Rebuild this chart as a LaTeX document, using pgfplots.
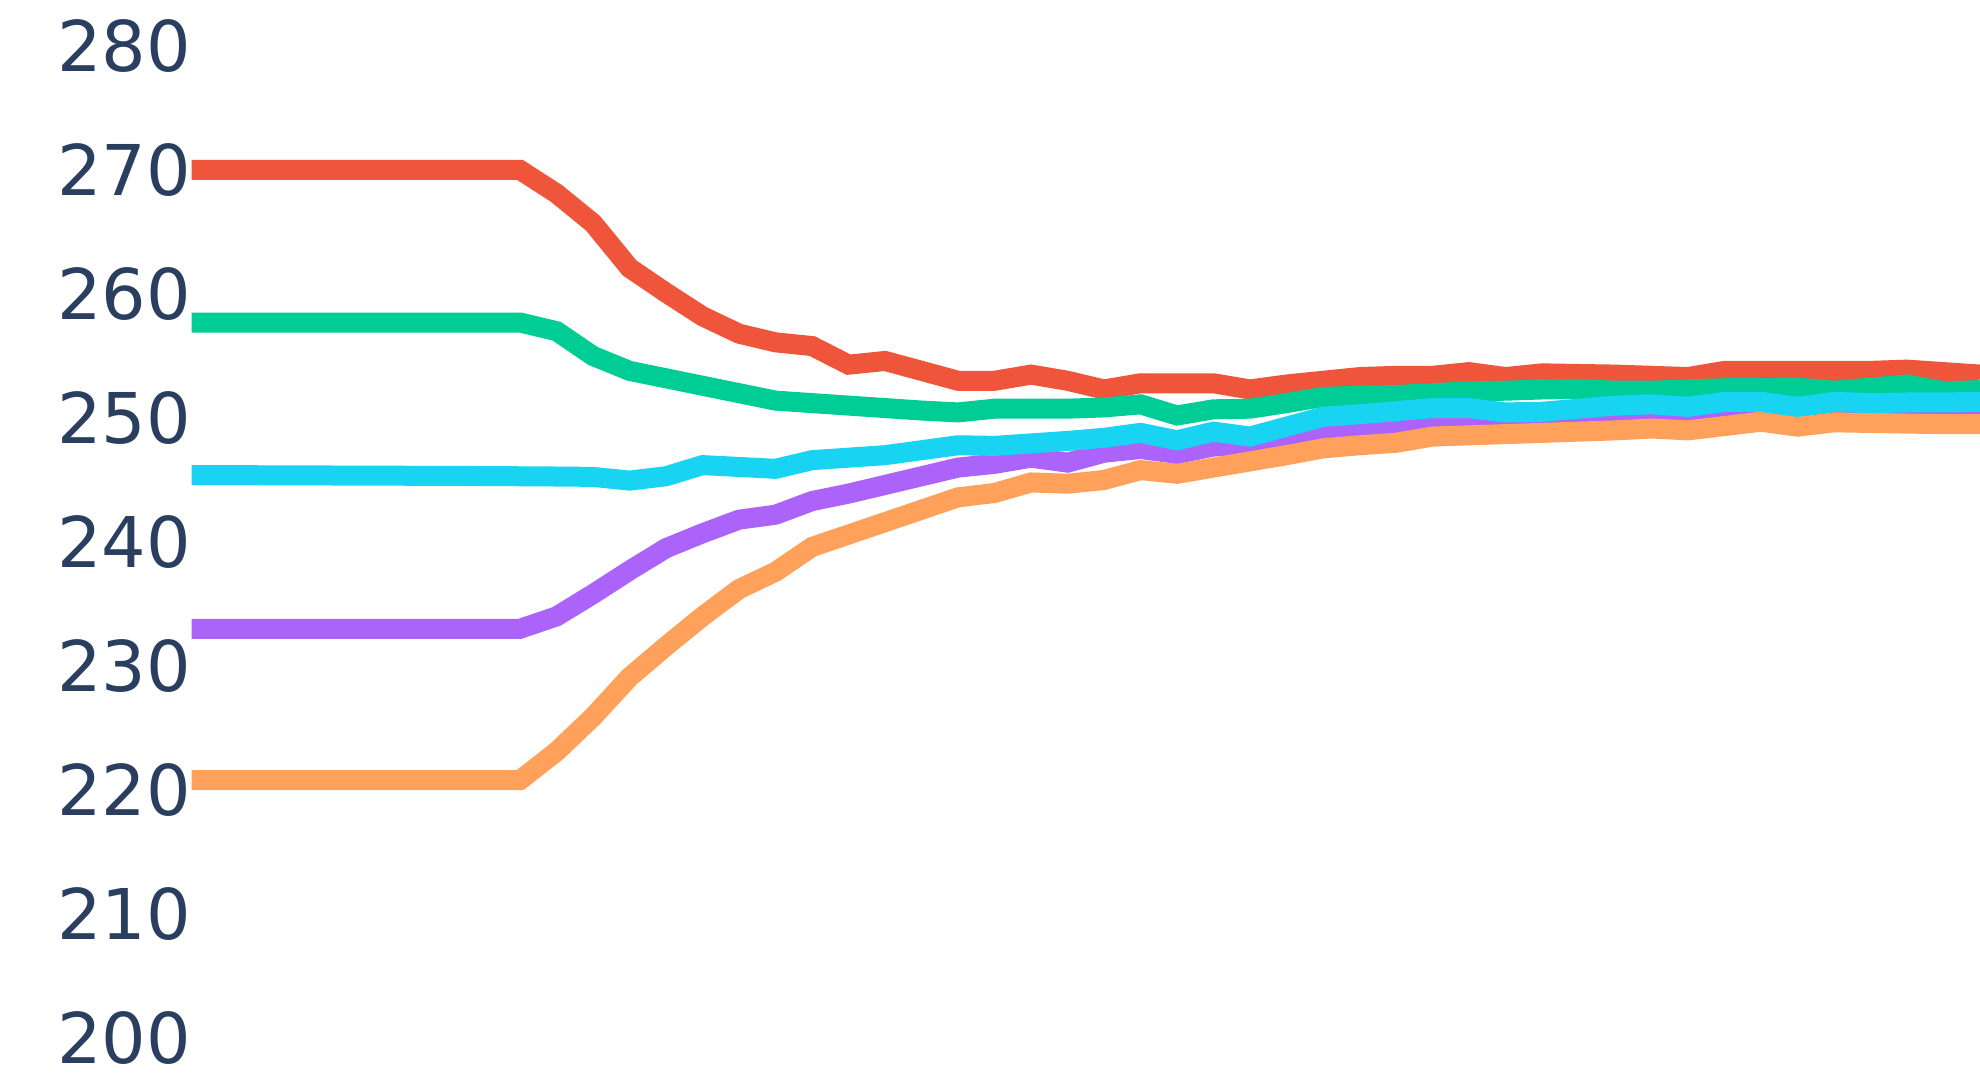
\documentclass[border=0pt]{standalone}
\usepackage{pgfplots}
\pgfplotsset{compat=1.18}
\usepackage{pgfplotstable}
\usepackage{fontspec}
\setmainfont{DejaVu Sans}

\definecolor{tickc}{HTML}{2A3F5F}
\definecolor{pred}{HTML}{EF553B}
\definecolor{pgreen}{HTML}{00CC96}
\definecolor{ppurple}{HTML}{AB63FA}
\definecolor{porange}{HTML}{FFA15A}
\definecolor{pcyan}{HTML}{19D3F3}

% x = step, one column per line
\pgfplotstableread{
x  R      G      P      O      C
0  270.0  257.7  233.0  220.8  245.40
1  270.0  257.7  233.0  220.8  245.39
2  270.0  257.7  233.0  220.8  245.38
3  270.0  257.7  233.0  220.8  245.37
4  270.0  257.7  233.0  220.8  245.36
5  270.0  257.7  233.0  220.8  245.35
6  270.0  257.7  233.0  220.8  245.34
7  270.0  257.7  233.0  220.8  245.33
8  270.0  257.7  233.0  220.8  245.32
9  270.0  257.7  233.0  220.8  245.30
10 268.1  257.0  234.0  223.1  245.28
11 265.7  255.0  235.8  225.9  245.25
12 262.1  253.8  237.7  229.1  244.95
13 260.1  253.2  239.5  231.6  245.30
14 258.2  252.6  240.7  234.0  246.20
15 256.8  252.0  241.8  236.2  246.05
16 256.1  251.4  242.2  237.6  245.90
17 255.8  251.2  243.3  239.6  246.60
18 254.3  251.0  243.9  240.6  246.80
19 254.6  250.8  244.6  241.6  247.00
20 253.8  250.6  245.3  242.6  247.40
21 253.0  250.45 246.0  243.6  247.80
22 253.0  250.75 246.3  243.95 247.75
23 253.5  250.75 246.8  244.8  247.95
24 253.0  250.75 246.4  244.7  248.15
25 252.3  250.85 247.2  245.0  248.40
26 252.8  251.1  247.5  245.8  248.80
27 252.8  250.2  247.1  245.5  248.20
28 252.8  250.7  247.7  246.0  248.90
29 252.3  250.75 247.8  246.5  248.50
30 252.7  251.2  248.3  247.0  249.30
31 253.0  251.7  248.8  247.55 250.10
32 253.3  251.8  249.0  247.8  250.30
33 253.4  251.85 249.2  248.0  250.55
34 253.4  252.0  249.5  248.5  250.80
35 253.7  252.15 249.75 248.6  250.80
36 253.3  252.2  249.85 248.7  250.45
37 253.6  252.3  249.95 248.8  250.50
38 253.55 252.35 250.0  248.9  250.75
39 253.5  252.2  250.05 249.0  251.00
40 253.4  252.2  250.1  249.15 251.10
41 253.3  252.3  250.1  249.0  250.90
42 253.8  252.4  250.35 249.35 251.30
43 253.8  252.4  250.45 249.7  251.30
44 253.8  252.45 250.4  249.3  250.90
45 253.8  252.2  250.45 249.65 251.30
46 253.8  252.45 250.45 249.6  251.20
47 253.9  252.7  250.45 249.55 251.25
48 253.7  252.15 250.5  249.5  251.25
49 253.5  252.25 250.5  249.5  251.30
}\runs

\begin{document}
\begin{tikzpicture}
\useasboundingbox (-47.9pt,0pt) rectangle (447.1pt,270pt);
\begin{axis}[
    at={(0pt,0pt)}, anchor=south west,
    scale only axis,
    width=447.1pt, height=270pt,
    xmin=0, xmax=49,
    ymin=196.61, ymax=283.71,
    axis line style={draw=none},
    xtick=\empty,
    ytick={200,210,...,280},
    major tick length=0pt,
    /pgf/number format/assume math mode=true,
    yticklabel style={font=\fontsize{17.5}{17.5}\selectfont, text=tickc,
        anchor=east, inner sep=0pt},
    every axis plot/.append style={line width=5pt, mark=none},
]
\addplot[pred] table[x=x, y=R] {\runs};
\addplot[pgreen] table[x=x, y=G] {\runs};
\addplot[ppurple] table[x=x, y=P] {\runs};
\addplot[porange] table[x=x, y=O] {\runs};
\addplot[pcyan] table[x=x, y=C] {\runs};
\end{axis}
\end{tikzpicture}
\end{document}
